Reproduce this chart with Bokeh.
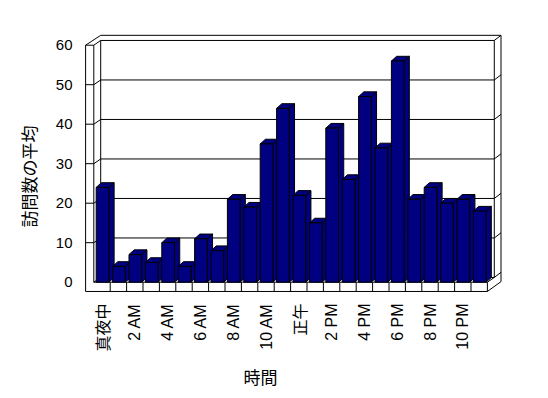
import math
from bokeh.plotting import figure
from bokeh.models import Range1d, ColumnDataSource
from bokeh.core.properties import value
from bokeh.embed import file_html
from bokeh.resources import INLINE

# ---------------- data ----------------
hours = list(range(24))
visits = [24, 4, 7, 5, 10, 4, 11, 8, 21, 19, 35, 44,
          22, 15, 39, 26, 47, 34, 56, 21, 24, 20, 21, 18]
label_hours = [0, 2, 4, 6, 8, 10, 12, 14, 16, 18, 20, 22]
hour_labels = ["真夜中", "2 AM", "4 AM", "6 AM", "8 AM", "10 AM",
               "正午", "2 PM", "4 PM", "6 PM", "8 PM", "10 PM"]
y_ticks = [0, 10, 20, 30, 40, 50, 60]
y_title = "訪問数の平均"
x_title = "時間"

# ---------------- layout / style ----------------
W, H = 548, 398
PX0, SX = 101.5, 16.4      # pixel of category 0 centre, px per category
PY0, SY = 281.7, 3.95      # pixel of value 0, px per unit


def ux(px):
    return (px - PX0) / SX


def vy(py):
    return (PY0 - py) / SY


BAR_FILL = "#000080"
LINE = "#000000"
LATIN = "Liberation Sans"
CJK = "Noto Sans CJK JP"

x_lo, x_hi = hours[0] - 0.5, hours[-1] + 0.5
y_top = y_ticks[-1]
WALL = 0.5            # left wall thickness (category units)
FLOOR = 2.35          # floor thickness (value units)
DX, DY = 0.42, 1.2    # depth to back wall
DX2, DY2 = 0.41, 1.3  # back wall thickness
BAR_OFF, BAR_W = 0.146, 0.774
BDX, BDY = 0.32, 1.19

p = figure(width=W, height=H, output_backend="svg", toolbar_location=None,
           x_range=Range1d(ux(0), ux(W)), y_range=Range1d(vy(H), vy(0)),
           x_axis_location=None, y_axis_location=None,
           min_border=0)
p.outline_line_color = None
p.xgrid.visible = False
p.ygrid.visible = False
p.background_fill_color = "white"
p.border_fill_color = "white"

# ---------------- frame lines ----------------
xs, ys = [], []


def seg(x0, y0, x1, y1):
    xs.append([x0, x1])
    ys.append([y0, y1])


bx_l, bx_r = x_lo + DX, x_hi + DX
ox_r = bx_r + DX2
# left wall
seg(x_lo - WALL, -FLOOR, x_lo - WALL, y_top)
seg(x_lo - WALL, y_top, x_lo, y_top)
seg(x_lo, y_top, x_lo, 0)
seg(x_lo - WALL, y_top, bx_l, y_top + DY + DY2)
seg(x_lo, y_top, bx_l, y_top + DY)
# back wall
seg(bx_l, y_top + DY + DY2, ox_r, y_top + DY + DY2)
seg(bx_l, y_top + DY, bx_r, y_top + DY)
seg(bx_r, y_top + DY, ox_r, y_top + DY + DY2)
seg(bx_l, y_top + DY, bx_l, DY)
seg(bx_r, y_top + DY, bx_r, DY)
seg(ox_r, y_top + DY + DY2, ox_r, -FLOOR + DY + DY2)
for t in y_ticks[:-1]:
    if t > 0:
        seg(x_lo - WALL, t, x_lo, t)
    seg(x_lo, t, bx_l, t + DY)
    seg(bx_l, t + DY, bx_r, t + DY)
    seg(bx_r, t + DY, ox_r, t + DY + DY2)
# floor
seg(x_lo - WALL, -FLOOR, x_hi, -FLOOR)
seg(x_lo, 0, x_hi, 0)
seg(x_hi, 0, x_hi, -FLOOR)
seg(x_hi, -FLOOR, ox_r, -FLOOR + DY + DY2)
seg(x_hi, 0, bx_r, DY)
for h in hours[1:]:
    seg(h - 0.5, 0, h - 0.5, -FLOOR)

p.multi_line(xs, ys, line_color=LINE, line_width=1)

# ---------------- bars ----------------
pxs, pys = [], []
for h, v in zip(hours, visits):
    x0 = h - 0.5 + BAR_OFF
    x1 = x0 + BAR_W
    pxs.append([x1, x1 + BDX, x1 + BDX, x1])          # side
    pys.append([0, BDY, v + BDY, v])
    pxs.append([x0, x1, x1 + BDX, x0 + BDX])          # top
    pys.append([v, v, v + BDY, v + BDY])
    pxs.append([x0, x1, x1, x0])                      # front
    pys.append([0, 0, v, v])
p.patches(pxs, pys, fill_color=BAR_FILL, line_color=LINE, line_width=1)

# ---------------- tick labels ----------------
p.text(x=[ux(72)] * len(y_ticks), y=y_ticks, text=[str(t) for t in y_ticks],
       text_align="right", text_baseline="middle",
       text_font=value(LATIN), text_font_size="15px", text_color="black")

is_cjk = [any(ord(c) > 0x3000 for c in lab) for lab in hour_labels]
lab_src = ColumnDataSource(dict(
    x=label_hours,
    y=[vy(303)] * len(label_hours),
    text=hour_labels,
    font=[CJK if c else LATIN for c in is_cjk],
))
p.text(x="x", y="y", text="text", source=lab_src, angle=math.pi / 2,
       text_align="right", text_baseline="middle",
       text_font="font", text_font_size="16px", text_color="black")

# ---------------- titles ----------------
p.text(x=[ux(28)], y=[vy(176)], text=[y_title], angle=math.pi / 2,
       text_align="center", text_baseline="middle",
       text_font=value(CJK), text_font_size="17px", text_color="black")
p.text(x=[ux(260)], y=[vy(376)], text=[x_title],
       text_align="center", text_baseline="middle",
       text_font=value(CJK), text_font_size="17px", text_color="black")

open("out.html", "w").write(file_html(p, INLINE))
